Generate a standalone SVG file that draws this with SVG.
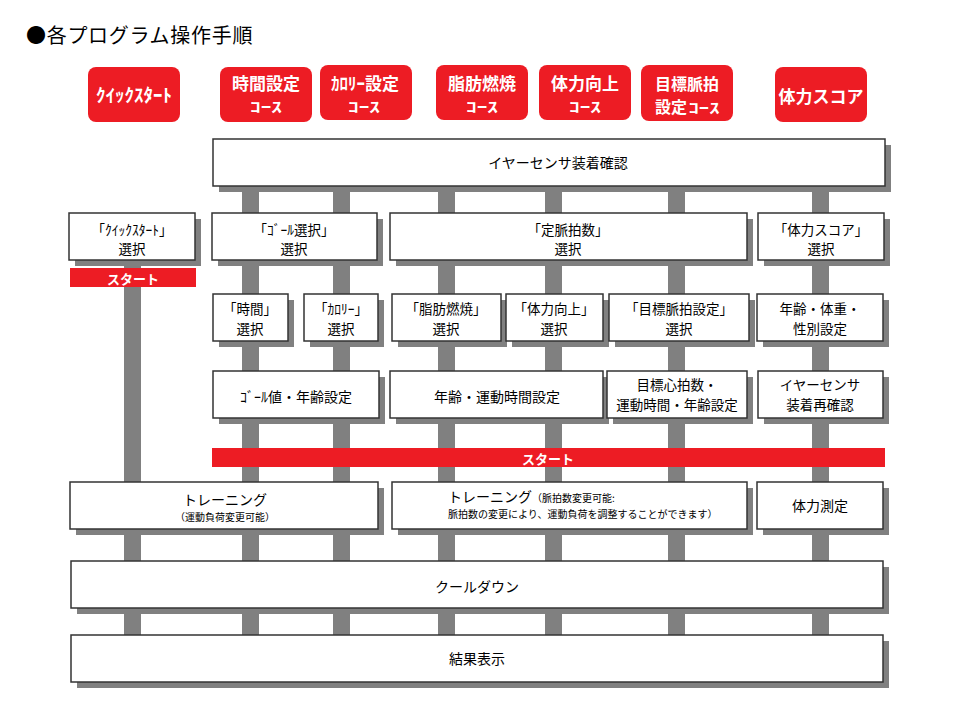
<svg xmlns="http://www.w3.org/2000/svg" width="960" height="720" viewBox="0 0 960 720">
<style>
.bg{fill:#fff}
.btn{fill:#ed1c24}
.bt{fill:#fff;font-weight:bold;font-family:"Noto Sans CJK JP","Noto Sans",sans-serif;text-anchor:middle}
.box{fill:#fff;stroke:#333;stroke-width:1.5}
.sh{fill:#808080}
.bar{fill:#808080}
.red{fill:#ed1c24}
.t{font-family:"Noto Sans CJK JP","Noto Sans",sans-serif;font-size:14px;text-anchor:middle;fill:#000}
.t2{font-size:13.5px}
.s{font-size:10px}
.l{text-anchor:start}
.title{font-family:"Noto Sans CJK JP","Noto Sans",sans-serif;font-size:20px;letter-spacing:0.7px;fill:#000}
</style>
<rect class="bg" x="0" y="0" width="960" height="720"/>
<text class="title" x="26" y="43">●各プログラム操作手順</text>

<g id="buttons">
<g id="btn-quick"><rect class="btn" x="88" y="67" width="92" height="55" rx="8"/><text class="bt" x="134" y="102" font-size="18" textLength="76" lengthAdjust="spacingAndGlyphs">ｸｲｯｸｽﾀｰﾄ</text></g>
<g id="btn-time"><rect class="btn" x="220" y="67" width="92" height="55" rx="8"/><text class="bt" x="266" y="90" font-size="17">時間設定</text><text class="bt" x="266" y="112" font-size="14" textLength="32" lengthAdjust="spacingAndGlyphs">ｺｰｽ</text></g>
<g id="btn-cal"><rect class="btn" x="320" y="65" width="92" height="55" rx="8"/><text class="bt" x="365" y="90" font-size="17">ｶﾛﾘｰ設定</text><text class="bt" x="364" y="112" font-size="14" textLength="32" lengthAdjust="spacingAndGlyphs">ｺｰｽ</text></g>
<g id="btn-fat"><rect class="btn" x="436" y="65" width="92" height="55" rx="8"/><text class="bt" x="482" y="90" font-size="17">脂肪燃焼</text><text class="bt" x="482" y="112" font-size="14" textLength="32" lengthAdjust="spacingAndGlyphs">ｺｰｽ</text></g>
<g id="btn-fit"><rect class="btn" x="539" y="65" width="92" height="55" rx="8"/><text class="bt" x="585" y="90" font-size="17">体力向上</text><text class="bt" x="585" y="112" font-size="14" textLength="32" lengthAdjust="spacingAndGlyphs">ｺｰｽ</text></g>
<g id="btn-hr"><rect class="btn" x="641" y="65" width="92" height="56" rx="8"/><text class="bt" x="687" y="89.5" font-size="16">目標脈拍</text><text class="bt" x="671" y="112.7" font-size="16">設定</text><text class="bt" x="704" y="112.7" font-size="14" textLength="31" lengthAdjust="spacingAndGlyphs">ｺｰｽ</text></g>
<g id="btn-score"><rect class="btn" x="775" y="67" width="92" height="55" rx="8"/><text class="bt" x="821" y="103" font-size="17">体力スコア</text></g>
</g>

<g id="connectors">
<rect class="bar" x="124" y="240" width="17" height="395"/>
<rect class="bar" x="242" y="186" width="17" height="449"/>
<rect class="bar" x="333" y="186" width="17" height="449"/>
<rect class="bar" x="438" y="186" width="17" height="449"/>
<rect class="bar" x="545" y="186" width="17" height="449"/>
<rect class="bar" x="668" y="186" width="17" height="449"/>
<rect class="bar" x="812" y="186" width="17" height="449"/>
</g>

<g id="n-ear"><rect class="sh" x="219" y="145" width="672" height="47"/><rect class="box" x="213" y="139" width="672" height="47"/><text class="t" x="558" y="168">イヤーセンサ装着確認</text></g>

<g id="n-quicksel"><rect class="sh" x="75" y="219" width="126" height="47"/><rect class="box" x="69" y="213" width="126" height="47"/><text class="t t2" x="132" y="234.7">「ｸｲｯｸｽﾀｰﾄ」</text><text class="t t2" x="132" y="254.3">選択</text></g>
<g id="n-quickstart"><rect class="red" x="70" y="268" width="126" height="19"/><text class="bt" x="133" y="284" font-size="13">スタート</text></g>
<g id="n-goalsel"><rect class="sh" x="218" y="219" width="165" height="47"/><rect class="box" x="212" y="213" width="165" height="47"/><text class="t t2" x="294" y="234.7">「ｺﾞｰﾙ選択」</text><text class="t t2" x="294" y="254.3">選択</text></g>
<g id="n-hrsel"><rect class="sh" x="396" y="219" width="357" height="47"/><rect class="box" x="390" y="213" width="357" height="47"/><text class="t t2" x="568" y="234.7">「定脈拍数」</text><text class="t t2" x="568" y="254.3">選択</text></g>
<g id="n-scoresel"><rect class="sh" x="764" y="219" width="126" height="47"/><rect class="box" x="758" y="213" width="126" height="47"/><text class="t t2" x="821" y="234.7">「体力スコア」</text><text class="t t2" x="821" y="254.3">選択</text></g>

<g id="n-timesel"><rect class="sh" x="219" y="300" width="75" height="47"/><rect class="box" x="213" y="294" width="75" height="47"/><text class="t t2" x="250" y="314.2">「時間」</text><text class="t t2" x="250" y="333.8">選択</text></g>
<g id="n-calsel"><rect class="sh" x="310" y="300" width="74" height="47"/><rect class="box" x="304" y="294" width="74" height="47"/><text class="t t2" x="341" y="314.2">「ｶﾛﾘｰ」</text><text class="t t2" x="341" y="333.8">選択</text></g>
<g id="n-fatsel"><rect class="sh" x="398" y="300" width="109" height="47"/><rect class="box" x="392" y="294" width="109" height="47"/><text class="t t2" x="446" y="314.2">「脂肪燃焼」</text><text class="t t2" x="446" y="333.8">選択</text></g>
<g id="n-fitsel"><rect class="sh" x="512" y="300" width="97" height="47"/><rect class="box" x="506" y="294" width="97" height="47"/><text class="t t2" x="554" y="314.2">「体力向上」</text><text class="t t2" x="554" y="333.8">選択</text></g>
<g id="n-hrtsel"><rect class="sh" x="615" y="300" width="140" height="47"/><rect class="box" x="609" y="294" width="140" height="47"/><text class="t t2" x="679" y="314.2">「目標脈拍設定」</text><text class="t t2" x="679" y="333.8">選択</text></g>
<g id="n-age"><rect class="sh" x="763" y="300" width="126" height="47"/><rect class="box" x="757" y="294" width="126" height="47"/><text class="t t2" x="820" y="314.2">年齢・体重・</text><text class="t t2" x="820" y="333.8">性別設定</text></g>

<g id="n-goalval"><rect class="sh" x="219" y="377" width="166" height="47"/><rect class="box" x="213" y="371" width="166" height="47"/><text class="t" x="296" y="402">ｺﾞｰﾙ値・年齢設定</text></g>
<g id="n-agetime"><rect class="sh" x="396" y="377" width="213" height="47"/><rect class="box" x="390" y="371" width="213" height="47"/><text class="t" x="497" y="402">年齢・運動時間設定</text></g>
<g id="n-target"><rect class="sh" x="613" y="377" width="140" height="47"/><rect class="box" x="607" y="371" width="140" height="47"/><text class="t t2" x="677" y="390.2">目標心拍数・</text><text class="t t2" x="677" y="409.8">運動時間・年齢設定</text></g>
<g id="n-recheck"><rect class="sh" x="764" y="377" width="125" height="47"/><rect class="box" x="758" y="371" width="125" height="47"/><text class="t t2" x="820" y="390.2">イヤーセンサ</text><text class="t t2" x="820" y="409.8">装着再確認</text></g>

<g id="n-start"><rect class="red" x="212" y="448" width="673" height="19"/><text class="bt" x="548" y="464" font-size="13">スタート</text></g>

<g id="n-train1"><rect class="sh" x="76" y="488" width="308" height="47"/><rect class="box" x="70" y="482" width="308" height="47"/><text class="t" x="225" y="504.5">トレーニング</text><text class="t s" x="225" y="521">（運動負荷変更可能）</text></g>
<g id="n-train2"><rect class="sh" x="398" y="488" width="355" height="47"/><rect class="box" x="392" y="482" width="355" height="47"/><text class="t l" x="448" y="502">トレーニング<tspan font-size="10">（脈拍数変更可能:</tspan></text><text class="t s l" x="448" y="518">脈拍数の変更により、運動負荷を調整することができます）</text></g>
<g id="n-measure"><rect class="sh" x="763" y="488" width="126" height="47"/><rect class="box" x="757" y="482" width="126" height="47"/><text class="t" x="820" y="511">体力測定</text></g>

<g id="n-cool"><rect class="sh" x="77" y="567" width="812" height="47"/><rect class="box" x="71" y="561" width="812" height="47"/><text class="t" x="477" y="592">クールダウン</text></g>
<g id="n-result"><rect class="sh" x="77" y="641" width="812" height="47"/><rect class="box" x="71" y="635" width="812" height="47"/><text class="t" x="477" y="664">結果表示</text></g>
</svg>
